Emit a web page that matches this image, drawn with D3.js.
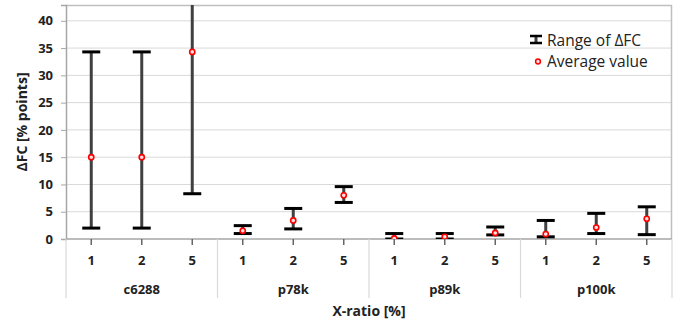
<!DOCTYPE html>
<html>
<head>
<meta charset="utf-8">
<script src="https://cdn.jsdelivr.net/npm/d3@7"></script>
<style>
  body { margin: 0; background: #fff; }
  svg { font-family: "Open Sans", "Liberation Sans", sans-serif; }
</style>
</head>
<body>
<div id="chart"></div>
<script>
// data
const groups     = ['c6288', 'p78k', 'p89k', 'p100k'];
const ratios     = ['1', '2', '5'];
const minValues  = [2.0, 2.0, 8.3,   1.0, 1.85, 6.7,   0.0, 0.0, 0.75,   0.4, 1.0, 0.8];
const maxValues  = [34.3, 34.3, 60,  2.45, 5.6, 9.6,   1.0, 1.0, 2.2,    3.4, 4.7, 5.9];
const avgValues  = [15.0, 15.0, 34.3, 1.5, 3.4, 8.0,   0.1, 0.4, 1.1,    0.9, 2.1, 3.7];
const yTicks     = [0, 5, 10, 15, 20, 25, 30, 35, 40];

const width = 683, height = 325;
const margin = { left: 66, right: 11, top: 5, bottom: 86 };
const plotW = width - margin.left - margin.right;
const plotH = height - margin.top - margin.bottom;

const svg = d3.select('#chart').append('svg')
  .attr('width', width)
  .attr('height', height);

const keys = [];
groups.forEach(g => ratios.forEach(r => keys.push(g + '|' + r)));

const x = d3.scaleBand().domain(keys).range([margin.left, margin.left + plotW]);
const y = d3.scaleLinear().domain([0, 42.9]).range([margin.top + plotH, margin.top]);

svg.append('clipPath').attr('id', 'plotClip')
  .append('rect')
  .attr('x', margin.left).attr('y', margin.top)
  .attr('width', plotW).attr('height', plotH);

// gridlines
svg.append('g')
  .selectAll('line')
  .data(yTicks.filter(d => d > 0))
  .join('line')
  .attr('x1', margin.left).attr('x2', margin.left + plotW)
  .attr('y1', d => y(d)).attr('y2', d => y(d))
  .attr('stroke', '#d9d9d9').attr('stroke-width', 1);

// plot border (top, right)
svg.append('path')
  .attr('d', `M${margin.left},${margin.top + 0.5}H${margin.left + plotW - 0.5}V${margin.top + plotH}`)
  .attr('fill', 'none').attr('stroke', '#bfbfbf').attr('stroke-width', 1.5);

// y axis
const yAxis = svg.append('g')
  .attr('transform', `translate(${margin.left},0)`)
  .call(d3.axisLeft(y).tickValues(yTicks).tickSize(5).tickPadding(8));
yAxis.select('.domain').attr('stroke', '#a6a6a6').attr('stroke-width', 1.5);
yAxis.selectAll('.tick line').attr('stroke', '#a6a6a6');
yAxis.selectAll('.tick text')
  .attr('font-size', 13).attr('font-weight', 'bold').attr('fill', '#222')
  .style('font-family', '"Open Sans", sans-serif');

// x axis
const bottom = margin.top + plotH;
svg.append('line')
  .attr('x1', margin.left).attr('x2', margin.left + plotW)
  .attr('y1', bottom).attr('y2', bottom)
  .attr('stroke', '#a6a6a6').attr('stroke-width', 1.5);

svg.append('g')
  .selectAll('line')
  .data(keys)
  .join('line')
  .attr('x1', d => x(d) + x.bandwidth() / 2).attr('x2', d => x(d) + x.bandwidth() / 2)
  .attr('y1', bottom).attr('y2', bottom + 6)
  .attr('stroke', '#666').attr('stroke-width', 1.5);

svg.append('g')
  .selectAll('text')
  .data(keys)
  .join('text')
  .attr('x', d => x(d) + x.bandwidth() / 2)
  .attr('y', 265)
  .attr('text-anchor', 'middle')
  .attr('font-size', 13).attr('font-weight', 'bold').attr('fill', '#222')
  .text(d => d.split('|')[1]);

// group separators
const sepX = groups.map(g => x(g + '|' + ratios[0])).concat([margin.left + plotW]);
svg.append('g')
  .selectAll('line')
  .data(sepX)
  .join('line')
  .attr('x1', d => d).attr('x2', d => d)
  .attr('y1', bottom).attr('y2', 298)
  .attr('stroke', '#d9d9d9').attr('stroke-width', 1.2);

svg.append('g')
  .selectAll('text')
  .data(groups)
  .join('text')
  .attr('x', g => x(g + '|' + ratios[1]) + x.bandwidth() / 2)
  .attr('y', 294)
  .attr('text-anchor', 'middle')
  .attr('font-size', 13).attr('font-weight', 'bold').attr('fill', '#222')
  .text(g => g);

// axis titles
svg.append('text')
  .attr('x', margin.left + plotW / 2).attr('y', 316)
  .attr('text-anchor', 'middle')
  .attr('font-size', 14).attr('font-weight', 'bold').attr('fill', '#222')
  .text('X-ratio [%]');

svg.append('text')
  .attr('transform', `translate(27,${margin.top + plotH / 2}) rotate(-90)`)
  .attr('text-anchor', 'middle')
  .attr('font-size', 14).attr('font-weight', 'bold').attr('fill', '#222')
  .text('ΔFC [% points]');

// range bars
const marks = svg.append('g').attr('clip-path', 'url(#plotClip)');
const capW = 18;
keys.forEach((k, i) => {
  const cx = x(k) + x.bandwidth() / 2;
  marks.append('line')
    .attr('x1', cx).attr('x2', cx)
    .attr('y1', y(minValues[i])).attr('y2', y(maxValues[i]))
    .attr('stroke', '#404040').attr('stroke-width', 3);
  [minValues[i], maxValues[i]].forEach(v => {
    marks.append('line')
      .attr('x1', cx - capW / 2).attr('x2', cx + capW / 2)
      .attr('y1', y(v)).attr('y2', y(v))
      .attr('stroke', '#000').attr('stroke-width', 3);
  });
});

// average markers
marks.selectAll('circle')
  .data(keys)
  .join('circle')
  .attr('cx', d => x(d) + x.bandwidth() / 2)
  .attr('cy', (d, i) => y(avgValues[i]))
  .attr('r', 2.6)
  .attr('fill', '#fbe0e0')
  .attr('stroke', '#ff0000').attr('stroke-width', 1.6);

// legend
const lg = svg.append('g');
lg.append('line').attr('x1', 536).attr('x2', 536).attr('y1', 36).attr('y2', 43)
  .attr('stroke', '#404040').attr('stroke-width', 3);
[36, 43].forEach(yy => lg.append('line')
  .attr('x1', 530).attr('x2', 542).attr('y1', yy).attr('y2', yy)
  .attr('stroke', '#000').attr('stroke-width', 2.5));
lg.append('text').attr('x', 547).attr('y', 45.5)
  .attr('font-size', 15.5).attr('fill', '#222').text('Range of ΔFC');
lg.append('circle').attr('cx', 538).attr('cy', 61.5).attr('r', 2.4)
  .attr('fill', '#fbe0e0').attr('stroke', '#ff0000').attr('stroke-width', 1.5);
lg.append('text').attr('x', 547).attr('y', 67)
  .attr('font-size', 15.5).attr('fill', '#222').text('Average value');
</script>
</body>
</html>
